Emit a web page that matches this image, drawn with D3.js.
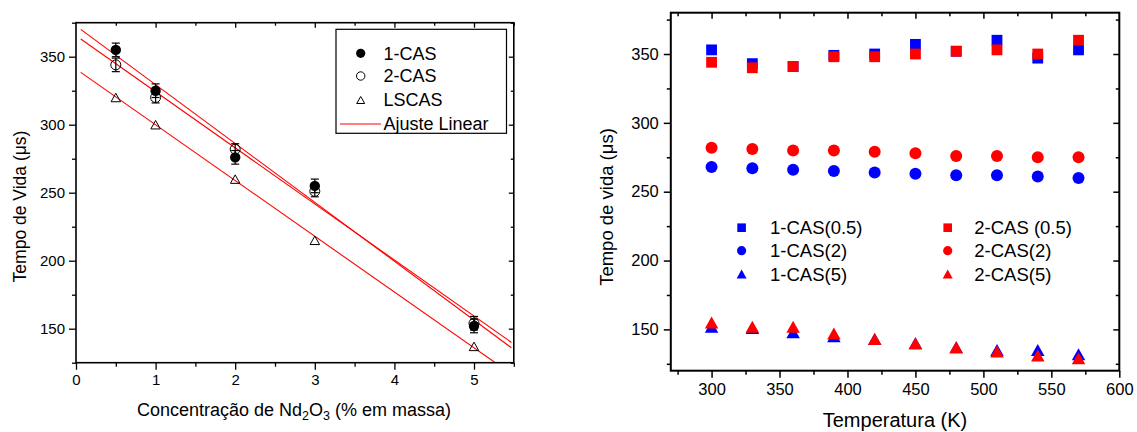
<!DOCTYPE html>
<html><head><meta charset="utf-8">
<script src="https://cdn.jsdelivr.net/npm/d3@7/dist/d3.min.js"></script>
<style>
html,body{margin:0;padding:0;background:#fff;}
svg{display:block;font-family:"Liberation Sans",Arial,sans-serif;}
</style></head>
<body>
<svg id="chart" width="1137" height="432"></svg>
<script>
// ---------- Left panel data ----------
const concX = [0.5, 1, 2, 3, 5];
const cas1 = [355, 325, 276, 255, 152];
const cas1Err = [5, 5, 5, 5, 5];
const cas2 = [344, 320, 282, 251, 154];
const cas2Err = [5, 4, 4, 4, 5];
const lscas = [320, 300, 260, 215, 137];
// linear-fit line end points
const fitX = [0.06, 5.47];
const fitCas1 = [370.1, 136.0];
const fitCas2 = [363.0, 139.9];
const fitLscas = [338.5, 116.7];
const leftXTicks = [0, 1, 2, 3, 4, 5];
const leftYTicks = [150, 200, 250, 300, 350];
const leftLegend = ["1-CAS", "2-CAS", "LSCAS", "Ajuste Linear"];

// ---------- Right panel data ----------
const temps = [300, 330, 360, 390, 420, 450, 480, 510, 540, 570];
const cas1_05 = [353, 343, 341, 349, 350, 357, 352, 360, 347, 353];
const cas2_05 = [344, 340, 341, 348, 348, 350, 352, 353, 350, 360];
const cas1_2 = [268, 267, 266, 265, 264, 263, 262, 262, 261, 260];
const cas2_2 = [282, 281, 280, 280, 279, 278, 276, 276, 275, 275];
const cas1_5 = [152, 151, 148, 145, 143, 140, 137, 135, 135, 132];
const cas2_5 = [155, 152, 152, 147, 143, 140, 137, 134, 131, 129];
const rightXTicks = [300, 350, 400, 450, 500, 550, 600];
const rightYTicks = [150, 200, 250, 300, 350];
const rightLegend1 = ["1-CAS(0.5)", "1-CAS(2)", "1-CAS(5)"];
const rightLegend2 = ["2-CAS (0.5)", "2-CAS(2)", "2-CAS(5)"];

const BLUE = "#0000ff", RED = "#ff0000";
const svg = d3.select("#chart");

function triPath(cx, cy, w, h) {
  return `M${cx},${cy - h/2}L${cx + w/2},${cy + h/2}L${cx - w/2},${cy + h/2}Z`;
}
function range(a, b, s) { const r = []; for (let v = a; v <= b + 1e-9; v += s) r.push(+v.toFixed(4)); return r; }

function drawAxes(g, x, y, opt) {
  const [x0, x1] = x.range(), [y0, y1] = y.range(); // y0 bottom, y1 top
  const style = s => s.select(".domain").remove();
  g.append("g").attr("transform", `translate(0,${y0})`)
    .call(d3.axisBottom(x).tickValues(opt.xMajor).tickSize(opt.majOut).tickPadding(opt.xPad).tickFormat(d3.format("d")))
    .call(style).call(s => s.selectAll("text").attr("font-size", opt.tickFont).attr("fill", "#000"))
    .call(s => s.selectAll("line").attr("stroke", "#000").attr("stroke-width", opt.tw));
  g.append("g").attr("transform", `translate(0,${y0})`)
    .call(d3.axisBottom(x).tickValues(opt.xMinor).tickSize(opt.minOut).tickFormat(""))
    .call(style).call(s => s.selectAll("line").attr("stroke", "#000").attr("stroke-width", opt.tw));
  g.append("g").attr("transform", `translate(${x0},0)`)
    .call(d3.axisLeft(y).tickValues(opt.yMajor).tickSize(opt.majOut).tickPadding(opt.yPad).tickFormat(d3.format("d")))
    .call(style).call(s => s.selectAll("text").attr("font-size", opt.tickFont).attr("fill", "#000"))
    .call(s => s.selectAll("line").attr("stroke", "#000").attr("stroke-width", opt.tw));
  g.append("g").attr("transform", `translate(${x0},0)`)
    .call(d3.axisLeft(y).tickValues(opt.yMinor).tickSize(opt.minOut).tickFormat(""))
    .call(style).call(s => s.selectAll("line").attr("stroke", "#000").attr("stroke-width", opt.tw));
  g.append("g").attr("transform", `translate(0,${y1})`)
    .call(d3.axisTop(x).tickValues(opt.xMajor.filter(v => v > x.domain()[0] && v < x.domain()[1])).tickSize(-opt.majIn).tickFormat(""))
    .call(style).call(s => s.selectAll("line").attr("stroke", "#000").attr("stroke-width", opt.tw));
  g.append("g").attr("transform", `translate(0,${y1})`)
    .call(d3.axisTop(x).tickValues(opt.xMinor).tickSize(-opt.minIn).tickFormat(""))
    .call(style).call(s => s.selectAll("line").attr("stroke", "#000").attr("stroke-width", opt.tw));
  g.append("g").attr("transform", `translate(${x1},0)`)
    .call(d3.axisRight(y).tickValues(opt.yMajor).tickSize(-opt.majIn).tickFormat(""))
    .call(style).call(s => s.selectAll("line").attr("stroke", "#000").attr("stroke-width", opt.tw));
  g.append("g").attr("transform", `translate(${x1},0)`)
    .call(d3.axisRight(y).tickValues(opt.yMinor).tickSize(-opt.minIn).tickFormat(""))
    .call(style).call(s => s.selectAll("line").attr("stroke", "#000").attr("stroke-width", opt.tw));
  g.append("rect").attr("x", x0).attr("y", y1).attr("width", x1 - x0).attr("height", y0 - y1)
    .attr("fill", "none").attr("stroke", "#000").attr("stroke-width", opt.fw);
}

// ================= LEFT PANEL =================
const xL = d3.scaleLinear().domain([0, 5.5]).range([76, 513.8]);
const yL = d3.scaleLinear().domain([125, 375]).range([362.7, 22.7]);
const gL = svg.append("g");

svg.append("defs").append("clipPath").attr("id", "clipL")
  .append("rect").attr("x", xL.range()[0]).attr("y", yL.range()[1])
  .attr("width", xL.range()[1] - xL.range()[0]).attr("height", yL.range()[0] - yL.range()[1]);

const fitG = gL.append("g").attr("clip-path", "url(#clipL)");
[fitCas1, fitCas2, fitLscas].forEach(f => {
  fitG.append("line").attr("x1", xL(fitX[0])).attr("y1", yL(f[0]))
    .attr("x2", xL(fitX[1])).attr("y2", yL(f[1]))
    .attr("stroke", RED).attr("stroke-width", 1.1);
});

function errBars(vals, errs) {
  concX.forEach((c, i) => {
    const cx = xL(c), ya = yL(vals[i] + errs[i]), yb = yL(vals[i] - errs[i]);
    gL.append("line").attr("x1", cx).attr("x2", cx).attr("y1", ya).attr("y2", yb).attr("stroke", "#000").attr("stroke-width", 1.2);
    [ya, yb].forEach(yy => gL.append("line").attr("x1", cx - 4).attr("x2", cx + 4).attr("y1", yy).attr("y2", yy).attr("stroke", "#000").attr("stroke-width", 1.2));
  });
}
errBars(cas1, cas1Err);
errBars(cas2, cas2Err);

gL.selectAll(".c1").data(concX).join("circle")
  .attr("cx", d => xL(d)).attr("cy", (d, i) => yL(cas1[i])).attr("r", 5.2).attr("fill", "#000");
gL.selectAll(".c2").data(concX).join("circle")
  .attr("cx", d => xL(d)).attr("cy", (d, i) => yL(cas2[i])).attr("r", 5).attr("fill", "none")
  .attr("stroke", "#000").attr("stroke-width", 1);
gL.selectAll(".tr").data(concX).join("path")
  .attr("d", (d, i) => triPath(xL(d), yL(lscas[i]), 9.5, 8.5))
  .attr("fill", "none").attr("stroke", "#000").attr("stroke-width", 1);

drawAxes(gL, xL, yL, {
  xMajor: leftXTicks, xMinor: range(0.5, 5.5, 1),
  yMajor: leftYTicks, yMinor: range(125, 375, 50),
  majOut: 7, minOut: 4, majIn: 5, minIn: 3, xPad: 5, yPad: 4,
  tickFont: "15px", tw: 1.3, fw: 1.6
});

const lgL = gL.append("g");
lgL.append("rect").attr("x", 336).attr("y", 29.3).attr("width", 170.5).attr("height", 104)
  .attr("fill", "#fff").attr("stroke", "#000").attr("stroke-width", 1.2);
const lgRows = [53.3, 76, 100, 124];
lgL.append("circle").attr("cx", 360.7).attr("cy", lgRows[0]).attr("r", 4.6).attr("fill", "#000");
lgL.append("circle").attr("cx", 360.7).attr("cy", lgRows[1]).attr("r", 4.2).attr("fill", "none").attr("stroke", "#000");
lgL.append("path").attr("d", triPath(360.7, lgRows[2], 8, 7)).attr("fill", "none").attr("stroke", "#000");
lgL.append("line").attr("x1", 340).attr("x2", 381).attr("y1", lgRows[3]).attr("y2", lgRows[3]).attr("stroke", RED).attr("stroke-width", 1.1);
leftLegend.forEach((t, i) => lgL.append("text").attr("x", 383.5).attr("y", lgRows[i]).attr("dy", "0.36em")
  .attr("font-size", "18px").text(t));

gL.append("text").attr("transform", "translate(26,206.5) rotate(-90)").attr("text-anchor", "middle")
  .attr("font-size", "17.5px").text("Tempo de Vida (μs)");
const xt = gL.append("text").attr("x", 294).attr("y", 416).attr("text-anchor", "middle").attr("font-size", "18px");
xt.append("tspan").text("Concentração de Nd");
xt.append("tspan").attr("font-size", "12.5px").attr("dy", 4).text("2");
xt.append("tspan").attr("dy", -4).text("O");
xt.append("tspan").attr("font-size", "12.5px").attr("dy", 4).text("3");
xt.append("tspan").attr("dy", -4).text(" (% em massa)");

// ================= RIGHT PANEL =================
const xR = d3.scaleLinear().domain([270, 600]).range([670.8, 1119.3]);
const yR = d3.scaleLinear().domain([120, 380]).range([370.7, 12.7]);
const gR = svg.append("g");

function squares(vals, color) {
  gR.append("g").selectAll("rect").data(temps).join("rect")
    .attr("x", d => xR(d) - 5.4).attr("y", (d, i) => yR(vals[i]) - 5.4)
    .attr("width", 10.8).attr("height", 10.8).attr("fill", color);
}
function circles(vals, color) {
  gR.append("g").selectAll("circle").data(temps).join("circle")
    .attr("cx", d => xR(d)).attr("cy", (d, i) => yR(vals[i])).attr("r", 6).attr("fill", color);
}
function tris(vals, color) {
  gR.append("g").selectAll("path").data(temps).join("path")
    .attr("d", (d, i) => triPath(xR(d), yR(vals[i]), 13.5, 12)).attr("fill", color);
}
squares(cas1_05, BLUE); squares(cas2_05, RED);
circles(cas1_2, BLUE); circles(cas2_2, RED);
tris(cas1_5, BLUE); tris(cas2_5, RED);

drawAxes(gR, xR, yR, {
  xMajor: rightXTicks, xMinor: range(275, 575, 50),
  yMajor: rightYTicks, yMinor: range(125, 375, 50),
  majOut: 7, minOut: 4, majIn: 6, minIn: 3.5, xPad: 6, yPad: 5,
  tickFont: "16.5px", tw: 1.5, fw: 2
});

const rRows = [227.7, 250.7, 274];
[[741.6, BLUE, rightLegend1, 770], [947.7, RED, rightLegend2, 974.3]].forEach(([sx, col, labels, tx]) => {
  gR.append("rect").attr("x", sx - 4.3).attr("y", rRows[0] - 4.3).attr("width", 8.6).attr("height", 8.6).attr("fill", col);
  gR.append("circle").attr("cx", sx).attr("cy", rRows[1]).attr("r", 4.6).attr("fill", col);
  gR.append("path").attr("d", triPath(sx, rRows[2], 10, 9)).attr("fill", col);
  labels.forEach((t, i) => gR.append("text").attr("x", tx).attr("y", rRows[i]).attr("dy", "0.36em")
    .attr("font-size", "18.5px").text(t));
});

gR.append("text").attr("transform", "translate(613,207) rotate(-90)").attr("text-anchor", "middle")
  .attr("font-size", "18.5px").text("Tempo de vida (μs)");
gR.append("text").attr("x", 895).attr("y", 427).attr("text-anchor", "middle")
  .attr("font-size", "20px").text("Temperatura (K)");
</script>
</body></html>
